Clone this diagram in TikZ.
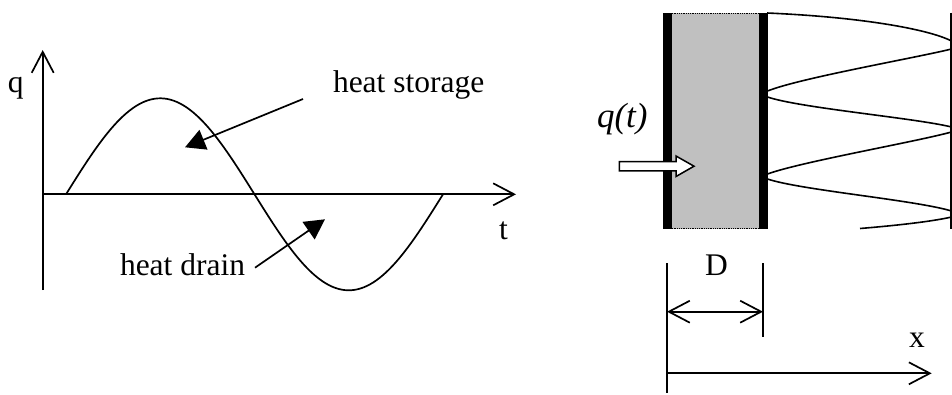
\documentclass[tikz,border=0pt]{standalone}
\usepackage{fontspec}
\setmainfont{Liberation Serif}
\usetikzlibrary{arrows.meta}
\tikzset{
  lbl/.style={font=\fontsize{31.5}{36}\selectfont, inner sep=0pt, outer sep=0pt},
  ln/.style={line width=1.7pt, line cap=butt},
  openarrow/.style={ln, -{Straight Barb[length=21pt,width=22pt,line width=1.7pt]}},
  openboth/.style={ln, {Straight Barb[length=21pt,width=22pt,line width=1.7pt]}-{Straight Barb[length=21pt,width=22pt,line width=1.7pt]}},
  filledarrow/.style={ln, -{Triangle[length=20pt,width=21pt]}},
  wall/.style={fill=black, draw=none},
}
\begin{document}
\begin{tikzpicture}[x=1pt, y=-1pt]
\useasboundingbox (0,0) rectangle (952,394);
% ---------- left graph ----------
\coordinate (qbot) at (42.7,290);
\coordinate (qtop) at (42.7,50);
\coordinate (tleft) at (42.7,194.3);
\coordinate (tright) at (516,194.3);
\draw[openarrow] (qbot) -- (qtop);
\draw[openarrow] (tleft) -- (tright);
\draw[ln, line join=round] plot[domain=66:443, samples=120] (\x, {194.3-96*sin(0.954907*(\x-66))});
\node[lbl, anchor=base west] (qlab) at (8,92) {q};
\node[lbl, anchor=base west] (tlab) at (499,239) {t};
\node[lbl, anchor=base west] (stor) at (333,92.3) {heat storage};
\node[lbl, anchor=base west] (drain) at (120,275) {heat drain};
\coordinate (storA) at (303,99);
\coordinate (storB) at (185,147.3);
\coordinate (drainA) at (255,267.7);
\coordinate (drainB) at (325,219.3);
\draw[filledarrow] (storA) -- (storB);
\draw[filledarrow] (drainA) -- (drainB);
% ---------- right: wall ----------
\fill[fill={rgb,255:red,192;green,192;blue,192}] (671.7,12.7) rectangle (759,229.3);
\draw[densely dotted, line width=0.8pt] (671.7,13.2) -- (759,13.2);
\draw[densely dotted, line width=0.8pt] (671.7,228.8) -- (759,228.8);
\fill[wall] (662.7,12.7) rectangle (671.7,229.3);
\fill[wall] (759,12.7) rectangle (767.7,229.3);
% outer boundary line
\coordinate (edgeT) at (951,12.7);
\coordinate (edgeB) at (951,229.3);
\draw[line width=1.5pt] (edgeT) -- (edgeB);
% wave
\draw[line width=1.6pt]
  (767,13) .. controls (860,17) and (928,29) .. (951.5,41)
  (951.5,49) .. controls (915,58) and (800,78) .. (767.5,91)
  (767.5,97) .. controls (800,108) and (915,118) .. (951.5,127)
  (951.5,132) .. controls (915,142) and (800,162) .. (767.5,174)
  (767.5,179) .. controls (800,190) and (915,200) .. (951.5,211)
  (951.5,217) .. controls (930,222) and (890,226) .. (860,228.5);
% heat flux arrow
\draw[fill=white, line width=1.5pt, line join=miter]
  (619.3,161.5) -- (676,161.5) -- (676,156) -- (694,166.2) -- (676,176.5) -- (676,170.8) -- (619.3,170.8) -- cycle;
\node[lbl, anchor=base west, font=\fontsize{35}{40}\selectfont\itshape] (qt) at (597,127) {q(t)};
% ---------- dimension lines ----------
\coordinate (dL1) at (667,263);
\coordinate (dL2) at (667,393);
\coordinate (dR1) at (763,263);
\coordinate (dR2) at (763,337);
\draw[line width=1.4pt] (dL1) -- (dL2);
\draw[line width=1.4pt] (dR1) -- (dR2);
\coordinate (dA) at (667,311.7);
\coordinate (dB) at (763,311.7);
\draw[openboth] (dA) -- (dB);
\node[lbl, anchor=base west] (Dlab) at (705,275) {D};
\coordinate (xA) at (667,373.3);
\coordinate (xB) at (931.7,373.3);
\draw[openarrow] (xA) -- (xB);
\node[lbl, anchor=base west] (xlab) at (909,347) {x};
\end{tikzpicture}
\end{document}
